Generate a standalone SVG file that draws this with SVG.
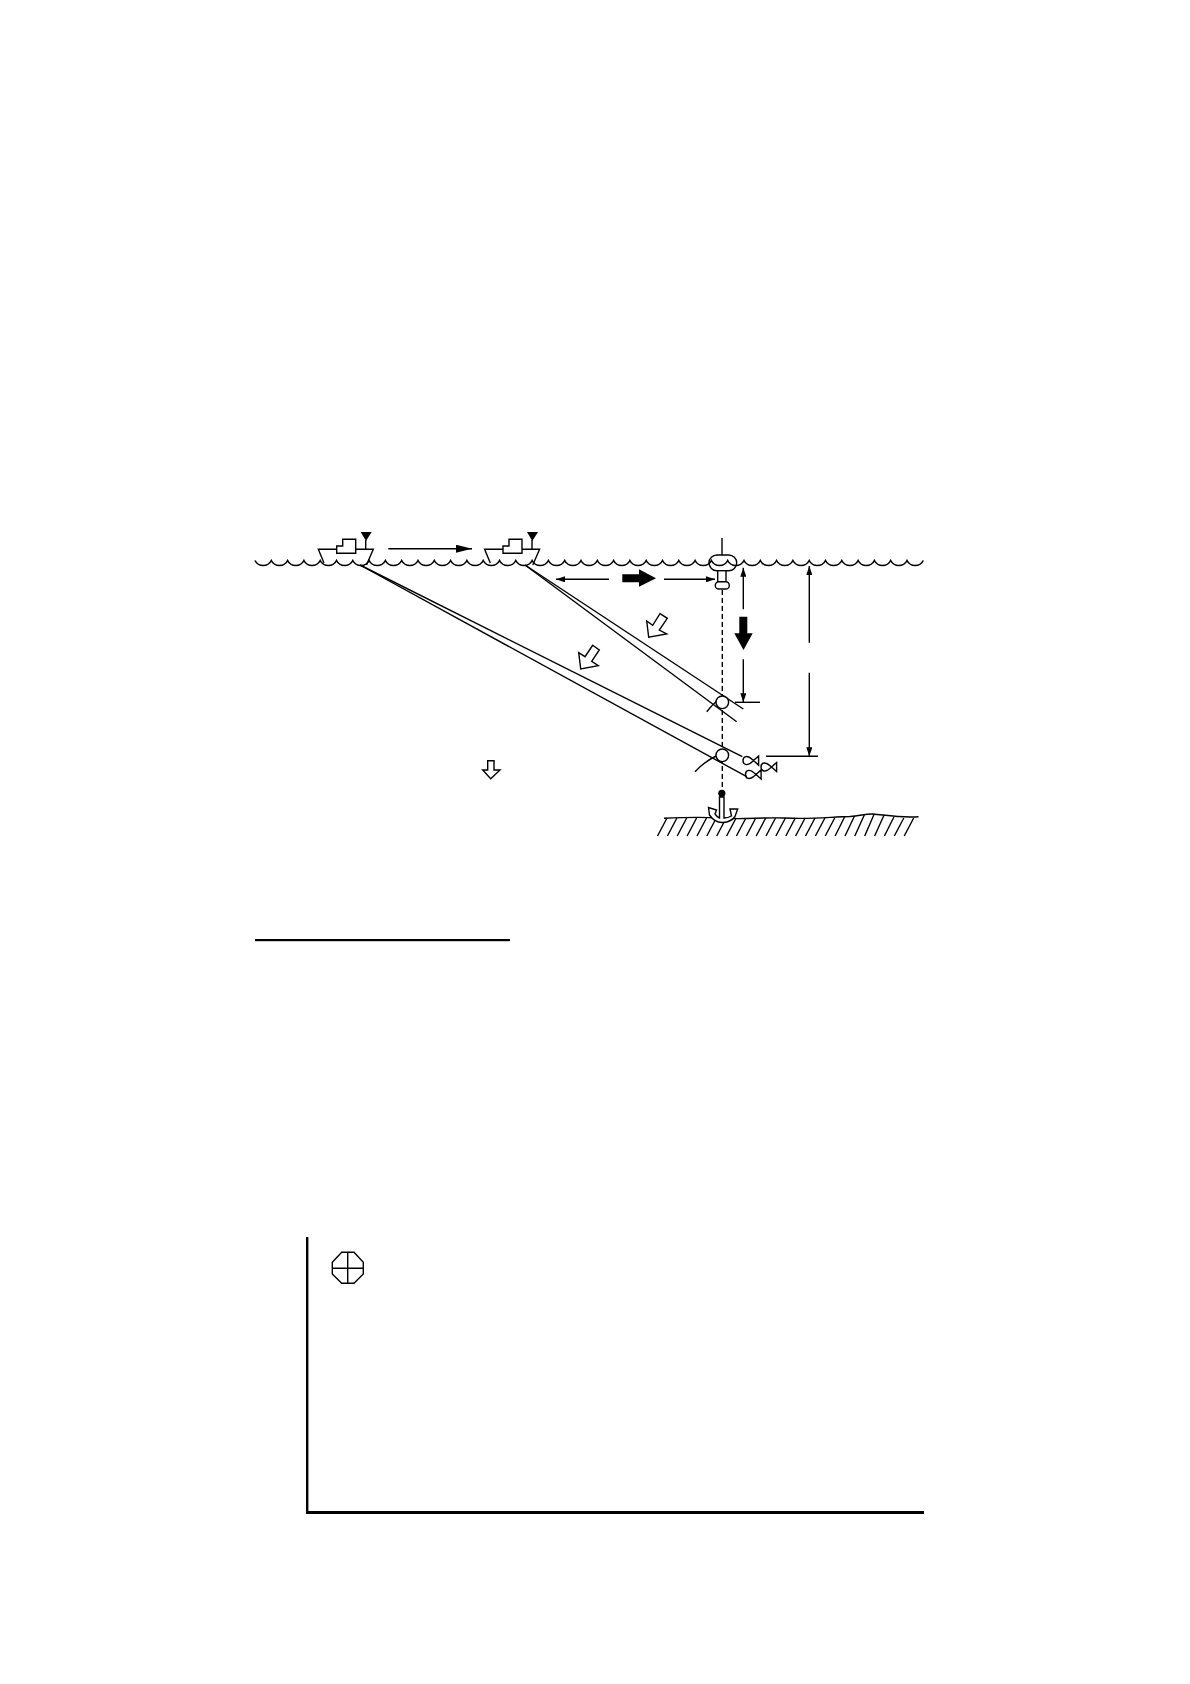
<svg xmlns="http://www.w3.org/2000/svg" width="1190" height="1684" viewBox="0 0 1190 1684">
<style>
.l{fill:none;stroke:#000;stroke-width:1.4}
.w{fill:#fff;stroke:#000;stroke-width:1.4}
.s{fill:none;stroke:#000;stroke-width:1.6}
.k{fill:#000;stroke:none}
</style>
<defs>
<marker id="ah" viewBox="0 0 16 8" markerWidth="16" markerHeight="8" markerUnits="userSpaceOnUse" refX="16" refY="4" orient="auto"><path d="M0 0L16 4L0 8Z"/></marker>
<marker id="as" viewBox="0 0 9 6" markerWidth="9" markerHeight="6" markerUnits="userSpaceOnUse" refX="9" refY="3" orient="auto"><path d="M0 0L9 3L0 6Z"/></marker>
<g id="ship">
<path class="l" d="M324 563L318.3 549.3H373.3L366.5 565"/>
<path class="w" d="M336.7 553.3V546H342.7V539.3H355.7V553.3Z"/>
<path class="l" d="M365.7 540V549.3"/>
<path class="k" d="M360.7 532H371.7L366 541Z"/>
</g>
<path id="fish" class="l" d="M15.6 -4.5V4.5L10.5 0Q6 -4.4 3 -4Q0 -3.5 0 0Q0 3.5 3 4Q6 4.4 10.5 0Z"/>
</defs>

<g id="sea">
<path class="s" d="M255 560.5a9.1 9.1 0 0 0 16.3 0a9.1 9.1 0 0 0 16.3 0a9.1 9.1 0 0 0 16.3 0a9.1 9.1 0 0 0 16.3 0a9.1 9.1 0 0 0 16.3 0a9.1 9.1 0 0 0 16.3 0a9.1 9.1 0 0 0 16.3 0a9.1 9.1 0 0 0 16.3 0a9.1 9.1 0 0 0 16.3 0a9.1 9.1 0 0 0 16.3 0a9.1 9.1 0 0 0 16.3 0a9.1 9.1 0 0 0 16.3 0a9.1 9.1 0 0 0 16.3 0a9.1 9.1 0 0 0 16.3 0a9.1 9.1 0 0 0 16.3 0a9.1 9.1 0 0 0 16.3 0a9.1 9.1 0 0 0 16.3 0a9.1 9.1 0 0 0 16.3 0a9.1 9.1 0 0 0 16.3 0a9.1 9.1 0 0 0 16.3 0a9.1 9.1 0 0 0 16.3 0a9.1 9.1 0 0 0 16.3 0a9.1 9.1 0 0 0 16.3 0a9.1 9.1 0 0 0 16.3 0a9.1 9.1 0 0 0 16.3 0a9.1 9.1 0 0 0 16.3 0a9.1 9.1 0 0 0 16.3 0a9.1 9.1 0 0 0 16.3 0a9.1 9.1 0 0 0 16.3 0a9.1 9.1 0 0 0 16.3 0a9.1 9.1 0 0 0 16.3 0a9.1 9.1 0 0 0 16.3 0a9.1 9.1 0 0 0 16.3 0a9.1 9.1 0 0 0 16.3 0a9.1 9.1 0 0 0 16.3 0a9.1 9.1 0 0 0 16.3 0a9.1 9.1 0 0 0 16.3 0a9.1 9.1 0 0 0 16.3 0a9.1 9.1 0 0 0 16.3 0a9.1 9.1 0 0 0 16.3 0a9.1 9.1 0 0 0 16.3 0"/>
</g>

<g id="seabed">
<path class="l" d="M664 818.3C690 817 705 817 720 818C745 820 760 817 785 818C810 819.5 830 817 850 816.5C860 816 866 813.5 873 814C885 815 900 818 918.5 816.7"/>
<path class="l" d="M657.5 836L667 818M667.4 836L676.9 818M677.2 836L686.7 818M687.1 836L696.6 818M697 836L706.5 818M706.8 836L716.3 818M716.7 836L726.2 818M726.6 836L736.1 818M736.4 836L745.9 818M746.3 836L755.8 818M756.2 836L765.7 818M766 836L775.5 818M775.9 836L785.4 818M785.8 836L795.3 818M795.6 836L805.1 818M805.5 836L815 818M815.4 836L824.9 818M825.2 836L834.7 818M835.1 836L844.6 817M845 836L854.5 816M854.8 836L864.3 815M864.7 836L874.2 814M874.6 836L884.1 815M884.4 836L893.9 817M894.3 836L903.8 818M904.2 836L913.7 818"/>
</g>

<g id="connectors">
<path class="l" d="M360 565L742.3 756.7"/>
<path class="l" d="M360 565L746.7 776.7"/>
<path class="l" d="M525 565L743.3 709"/>
<path class="l" d="M525 565L736.7 721.7"/>
<path class="l" stroke-dasharray="5 3" d="M722.3 590V790"/>
<path class="l" d="M706.7 711.7Q712 705 718 700"/>
<path class="l" d="M695 771.7Q704 762 716 756"/>
<path class="l" marker-end="url(#ah)" d="M388.3 548.7H472"/>
<path class="l" marker-end="url(#as)" d="M609 579.3H556"/>
<path class="l" marker-end="url(#as)" d="M664 579.3H715"/>
<path class="l" marker-end="url(#as)" d="M743.3 609.3V567.7"/>
<path class="l" marker-end="url(#as)" d="M743.3 659.3V702.3"/>
<path class="l" d="M735 702.3H760"/>
<path class="l" marker-end="url(#as)" d="M809.3 642.7V566"/>
<path class="l" marker-end="url(#as)" d="M809.3 672.7V756.3"/>
<path class="l" d="M766 756.3H818"/>
</g>

<g id="ship-1"><use href="#ship"/></g>
<g id="ship-2"><use href="#ship" x="166.3"/></g>

<g id="buoy">
<path class="l" d="M722 538V555"/>
<rect class="l" x="709" y="555" width="27.7" height="15.7" rx="8"/>
<rect class="w" x="717.7" y="570.7" width="8.3" height="11"/>
<rect class="w" x="715.3" y="581.7" width="14" height="7.3" rx="3.6"/>
</g>

<g id="weight-upper"><circle class="w" cx="722.3" cy="702.3" r="6.3"/></g>
<g id="weight-lower"><circle class="w" cx="722.3" cy="755.3" r="6.3"/></g>

<g id="solid-arrows">
<path class="k" d="M622.3 574.3H639V569.3L656 578.3L639 586.7V582.3H622.3Z"/>
<path class="k" d="M739.3 616.7H747.3V633.3H752.7L743.5 650L734.3 633.3H739.3Z"/>
</g>

<g id="open-arrows">
<path class="w" d="M660 613.7L667.3 618.3L659.3 630L666.7 634L648.7 637.3L646.7 621L652.7 625.3Z"/>
<path class="w" d="M592.7 645.3L599.3 650L591.7 661.3L598.3 665.7L580.7 669L578.7 652.7L585 656.7Z"/>
<path class="w" d="M487.7 760.7H494V770H500L490.7 778.7L482.7 770H487.7Z"/>
</g>

<g id="fishes">
<use href="#fish" x="743" y="760.6"/>
<use href="#fish" x="761" y="767"/>
<use href="#fish" x="745.5" y="774.4"/>
</g>

<g id="anchor">
<path class="w" d="M719.5 797V818Q717 817 715 814L716.5 810L708.5 807.5L709.5 815Q715 823 723 822.5Q731 822 735 816.5L737.7 809L730 809L731.5 816Q728 818 724 818V797Z"/>
<circle class="k" cx="721.8" cy="793.3" r="3.6"/>
</g>

<g id="rules">
<rect class="k" x="255" y="939" width="255" height="2.2"/>
<rect class="k" x="306" y="1237" width="2.4" height="277"/>
<rect class="k" x="306" y="1511" width="618" height="3"/>
</g>

<g id="octagon">
<path class="l" d="M341.7 1252.3H354L363.3 1262.3V1274L354 1283.3H341.7L332.3 1274V1262.3Z"/>
<path class="l" d="M347.7 1252.3V1283.3M332.3 1268.3H363.3"/>
</g>
</svg>
